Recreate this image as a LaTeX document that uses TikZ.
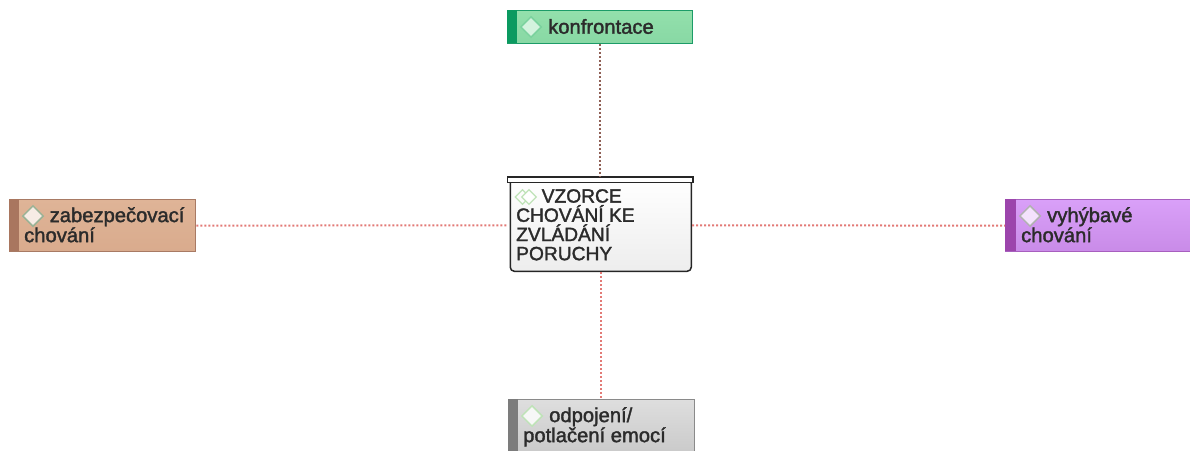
\documentclass[tikz,border=0pt]{standalone}
\usepackage{fontspec}
\setmainfont[FakeBold=1.7]{Liberation Sans}
\usetikzlibrary{shapes.geometric}
\definecolor{txt}{HTML}{2B2B2B}
\definecolor{gBorder}{HTML}{1C9C68}\definecolor{gStripe}{HTML}{0B9A60}\definecolor{gTop}{HTML}{93E0AC}\definecolor{gBot}{HTML}{88D8A4}
\definecolor{bBorder}{HTML}{A87A64}\definecolor{bStripe}{HTML}{A9765F}\definecolor{bTop}{HTML}{DFB497}\definecolor{bBot}{HTML}{D9AB8D}
\definecolor{pBorder}{HTML}{A75FBE}\definecolor{pStripe}{HTML}{9C45AC}\definecolor{pTop}{HTML}{D9A0F8}\definecolor{pBot}{HTML}{C98BE8}
\definecolor{yBorder}{HTML}{8A8A8A}\definecolor{yStripe}{HTML}{7C7C7C}\definecolor{yTop}{HTML}{DEDEDE}\definecolor{yBot}{HTML}{CACACA}
\definecolor{dTop}{HTML}{8F5F55}\definecolor{dRed}{HTML}{E27A76}\definecolor{dGreen}{HTML}{BFE3B8}
\tikzset{
  x=1pt,y=-1pt,
  boxnode/.style={rectangle,anchor=north west,inner sep=0pt,minimum width=#1,draw,line width=1.3pt},
  stripe/.style={rectangle,anchor=north west,inner sep=0pt,minimum width=10pt},
  dia/.style={diamond,aspect=1,inner sep=0pt,minimum width=21pt,minimum height=21pt,line width=1.5pt},
  lab/.style={anchor=north west,inner sep=0pt,align=left,text=txt,font=\fontsize{20.2}{19}\selectfont},
  conn/.style={line width=2pt,dash pattern=on 2pt off 2pt},
}
\begin{document}
\begin{tikzpicture}
\useasboundingbox (0,0) rectangle (1190,450);
% green box
\node[boxnode=185.5pt,minimum height=32.5pt,draw=gBorder,top color=gTop,bottom color=gBot] (konf) at (506.5,10) {};
\node[stripe,minimum height=33pt,fill=gStripe] (konfS) at (506.5,10) {};
\node[dia,draw=gTop!80!gBorder,fill=white!60!gTop] (konfD) at (531,27) {};
\node[lab,anchor=west] (konfT) at (548,26.5) {konfrontace};
% centre
\node[rectangle,anchor=north west,inner sep=0pt,minimum width=181pt,minimum height=92pt,rounded corners=4pt,draw=black!85,line width=1.5pt,top color=white,bottom color=black!7] (core) at (509.5,178.5) {};
\node[rectangle,anchor=north west,inner sep=0pt,minimum width=185.5pt,minimum height=5.5pt,draw=black!85,fill=white,line width=1.5pt] (bar) at (506.5,176) {};
\node[dia,minimum width=15pt,minimum height=15pt,line width=1.3pt,draw=dGreen] (coreD1) at (522.5,197) {};
\node[dia,minimum width=15pt,minimum height=15pt,line width=1.3pt,draw=dGreen,fill=white] (coreD2) at (529,197) {};
\node[lab,font=\fontsize{19.2}{19.2}\selectfont] (coreT) at (516,189) {\hspace*{25.5pt}VZORCE\\CHOVÁNÍ KE\\ZVLÁDÁNÍ\\PORUCHY};
% left box
\node[boxnode=186pt,minimum height=52pt,draw=bBorder,top color=bTop,bottom color=bBot] (zab) at (9,199) {};
\node[stripe,minimum height=52pt,fill=bStripe] (zabS) at (9,199) {};
\node[dia,draw=dGreen!75!black!90,fill=white!75!bTop] (zabD) at (33,216) {};
\node[lab] (zabT) at (24,207) {\hspace*{25.5pt}zabezpečovací\\chování};
% right box
\node[boxnode=190pt,minimum height=52pt,draw=pBorder,top color=pTop,bottom color=pBot] (vyh) at (1005,199) {};
\node[stripe,minimum height=52pt,minimum width=11pt,fill=pStripe] (vyhS) at (1005,199) {};
\node[dia,draw=black!30!white,fill=white!70!pTop] (vyhD) at (1030,216) {};
\node[lab] (vyhT) at (1021,207) {\hspace*{26pt}vyhýbavé\\chování};
% bottom box
\node[boxnode=186pt,minimum height=53pt,draw=yBorder,top color=yTop,bottom color=yBot] (odp) at (508,399) {};
\node[stripe,minimum height=53pt,fill=yStripe] (odpS) at (508,399) {};
\node[dia,draw=dGreen,fill=white!75!yTop] (odpD) at (532,416) {};
\node[lab] (odpT) at (523,407) {\hspace*{26pt}odpojení/\\potlačení emocí};
% connectors
\draw[conn,draw=dTop] (konf.south -| bar.north) -- (bar.north);
\draw[conn,draw=dRed] (core.south) -- (core.south |- odp.north);
\draw[conn,draw=dRed] (zab.east) -- (bar.west |- core.west);
\draw[conn,draw=dRed] (core.east) -- (vyh.west);
\end{tikzpicture}
\end{document}
